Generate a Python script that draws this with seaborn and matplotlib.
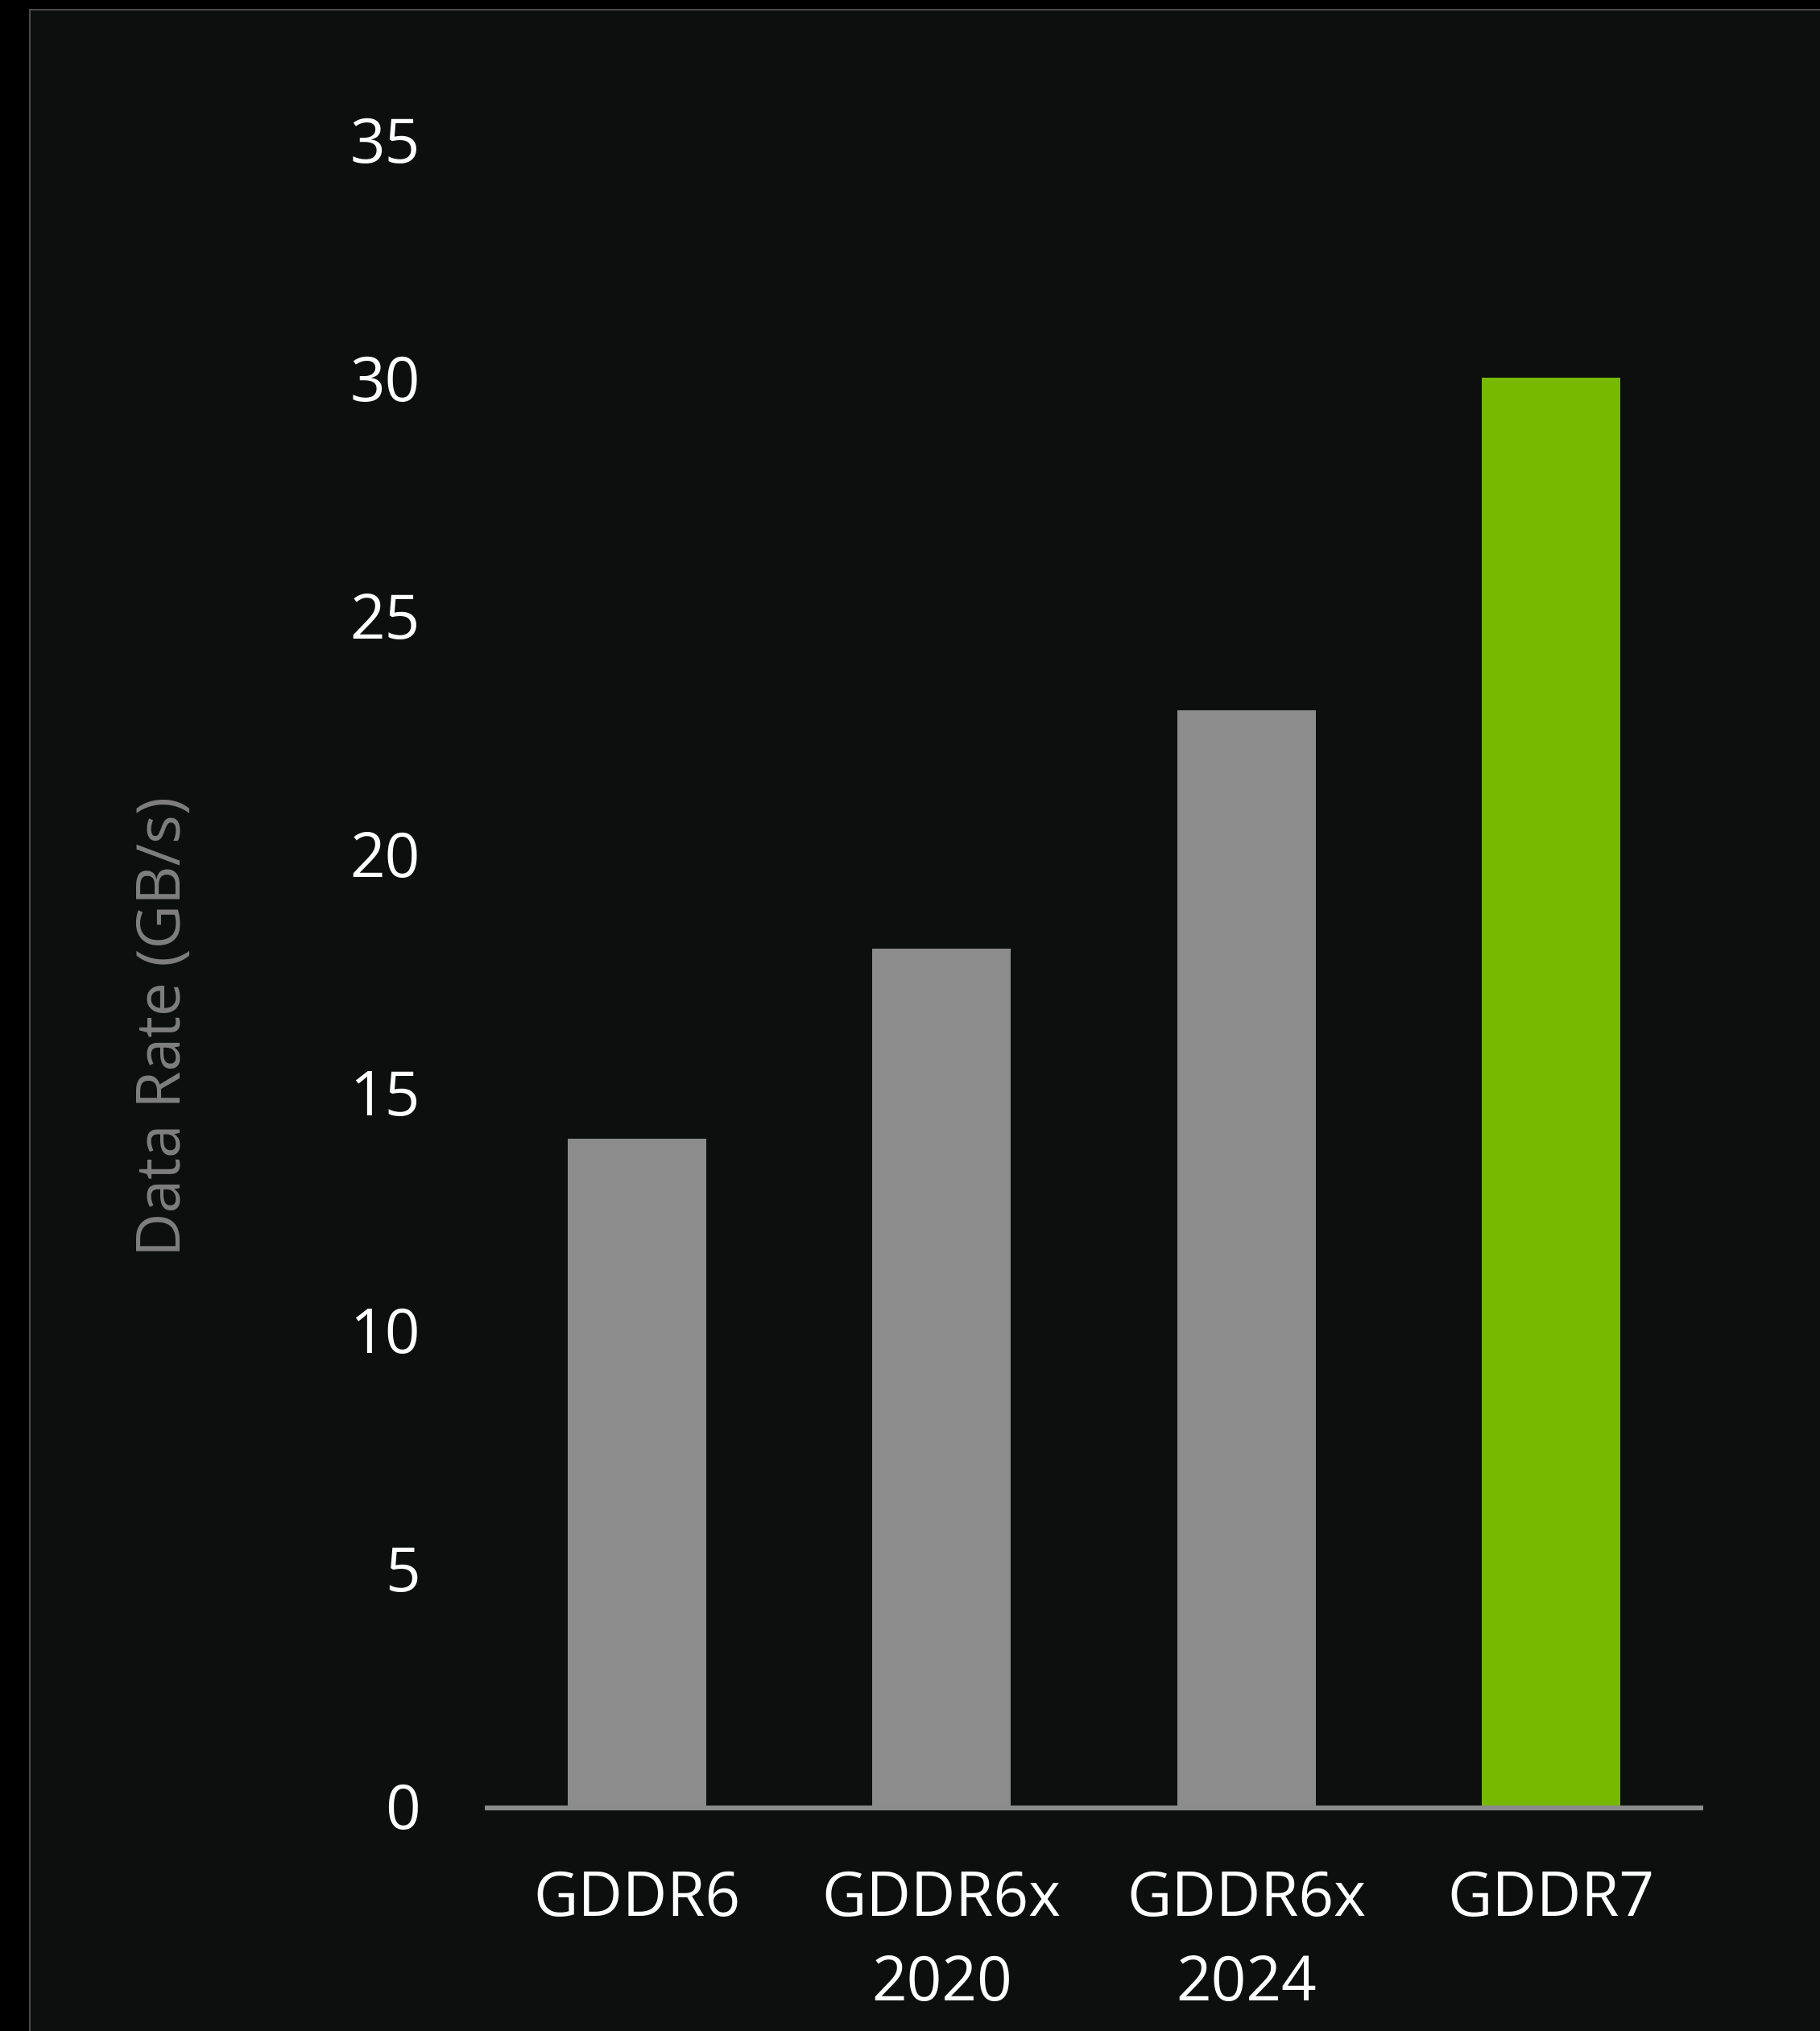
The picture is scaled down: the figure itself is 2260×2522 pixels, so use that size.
import matplotlib
matplotlib.use("Agg")
import matplotlib.pyplot as plt
from matplotlib.patches import Rectangle
import seaborn as sns
import pandas as pd

# ---- data ----
categories = ["GDDR6", "GDDR6x\n2020", "GDDR6x\n2024", "GDDR7"]
data_rate = [14, 18, 23, 30]
bar_colors = ["#8c8c8c", "#8c8c8c", "#8c8c8c", "#76b900"]
y_ticks = [0, 5, 10, 15, 20, 25, 30, 35]
y_label = "Data Rate (GB/s)"

df = pd.DataFrame({"memory": categories, "rate": data_rate})

sns.set_theme(style="white")
plt.rcParams["font.family"] = ["Open Sans", "DejaVu Sans"]

W, H = 2260, 2522
dpi = 100
fig = plt.figure(figsize=(W / dpi, H / dpi), dpi=dpi, facecolor="black")

# panel background with thin grey border
panel = Rectangle((37 / W, 0 - 0.01), 1.0, (1 - 12 / H) + 0.01, transform=fig.transFigure,
                  facecolor="#0d0f0e", edgecolor="#4a4a4a", linewidth=1.5, zorder=-10)
fig.patches.append(panel)

left, right = 602 / W, 2115 / W
bottom, top = 1 - 2242 / H, 1 - 173 / H
ax = fig.add_axes([left, bottom, right - left, top - bottom])
ax.set_facecolor("none")

sns.barplot(data=df, x="memory", y="rate", hue="memory", palette=bar_colors,
            width=0.455, saturation=1, legend=False, ax=ax, zorder=3,
            linewidth=0, edgecolor="none")

ax.set_xlim(-0.5, 3.5)
ax.set_ylim(0, 35)
ax.set_yticks(y_ticks)
ax.set_yticklabels([str(t) for t in y_ticks])

for s in ["left", "right", "top"]:
    ax.spines[s].set_visible(False)
ax.spines["bottom"].set_color("#8c8c8c")
ax.spines["bottom"].set_linewidth(4.3)
ax.spines["bottom"].set_position(("outward", 2.2))
ax.spines["bottom"].set_capstyle("butt")

ax.tick_params(axis="y", length=0, pad=58, labelsize=55, labelcolor="white")
ax.tick_params(axis="x", length=0, pad=54, labelsize=55, labelcolor="white")
for lab in ax.get_xticklabels():
    lab.set_linespacing(1.5)

ax.set_xlabel("")
ax.set_ylabel("")
fig.text(204 / W, 1 - 1274 / H, y_label, rotation=90, color="#7f7f7f",
         fontsize=54, ha="center", va="center")

fig.savefig("out.png", dpi=dpi, facecolor=fig.get_facecolor())
